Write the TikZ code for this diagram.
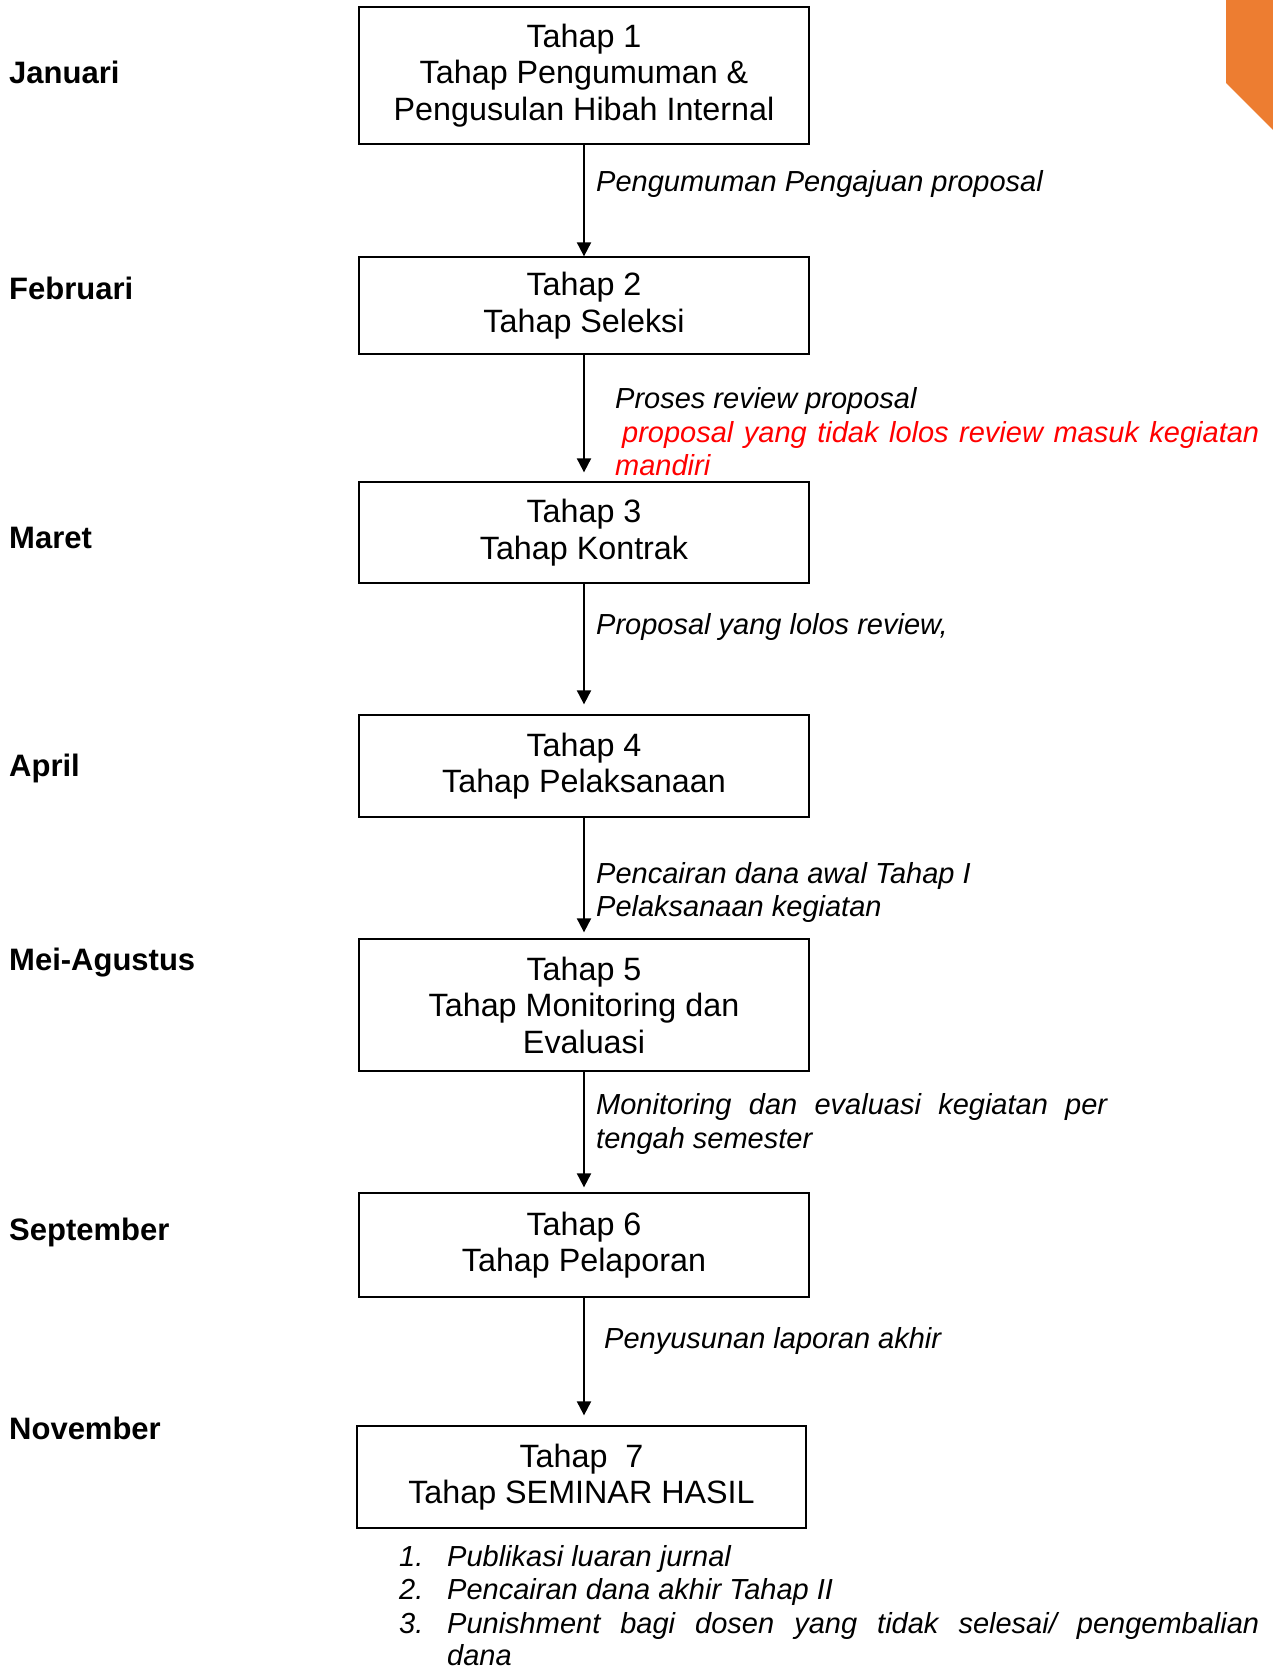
\documentclass[tikz,border=0pt]{standalone}
\usepackage{fontspec}
\setmainfont{Liberation Sans}
\usetikzlibrary{arrows.meta}
\definecolor{orng}{HTML}{ED7D31}
\begin{document}
\begin{tikzpicture}[x=1pt,y=-1pt,
  box/.style={draw, line width=1.3pt, minimum width=450pt, align=center, inner sep=0pt,
    font=\fontsize{32.3}{36.5}\selectfont},
  month/.style={anchor=base west, inner sep=0pt, font=\bfseries\fontsize{31}{36}\selectfont},
  lab/.style={anchor=base west, inner sep=0pt, font=\itshape\fontsize{29}{33}\selectfont},
  arr/.style={-{Triangle[length=14pt,width=14pt]}, line width=2pt}]
\useasboundingbox (0,0) rectangle (1273,1668);
\fill[orng] (1226,0) -- (1273,0) -- (1273,130) -- (1226,83) -- cycle;

% boxes
\node[box, minimum height=137pt] (b1) at (584,75.5) {Tahap 1\\Tahap Pengumuman \&\\Pengusulan Hibah Internal};
\node[box, minimum height=97pt] (b2) at (584,305.5) {Tahap 2\\Tahap Seleksi};
\node[box, minimum height=101pt] (b3) at (584,532.5) {Tahap 3\\Tahap Kontrak};
\node[box, minimum height=102pt] (b4) at (584,766) {Tahap 4\\Tahap Pelaksanaan};
\node[box, minimum height=132pt] (b5) at (584,1005) {Tahap 5\\Tahap Monitoring dan\\Evaluasi};
\node[box, minimum height=104pt] (b6) at (584,1245) {Tahap 6\\Tahap Pelaporan};
\node[box, minimum height=102pt, minimum width=449pt] (b7) at (581.5,1477) {Tahap~~7\\Tahap SEMINAR HASIL};

% arrows
\draw[arr] (b1.south) -- (b1.south |- b2.north);
\draw[arr, shorten >=9pt] (b2.south) -- (b2.south |- b3.north);
\draw[arr, shorten >=10pt] (b3.south) -- (b3.south |- b4.north);
\draw[arr, shorten >=6pt] (b4.south) -- (b4.south |- b5.north);
\draw[arr, shorten >=5pt] (b5.south) -- (b5.south |- b6.north);
\draw[arr, shorten >=10pt] (b6.south) -- (b6.south |- b7.north);

% months
\node[month] (m1) at (9,83) {Januari};
\node[month] (m2) at (9,299) {Februari};
\node[month] (m3) at (9,548) {Maret};
\node[month] (m4) at (9,776) {April};
\node[month] (m5) at (9,970) {Mei-Agustus};
\node[month] (m6) at (9,1240) {September};
\node[month] (m7) at (9,1439) {November};

% labels
\node[lab] (l1) at (596,191) {Pengumuman Pengajuan proposal};
\node[lab] (l2a) at (615,408) {Proses review proposal};
\node[lab, text=red] (l2b) at (622,442) {\makebox[637pt][s]{proposal yang tidak lolos review masuk kegiatan}};
\node[lab, text=red] (l2c) at (615,475) {mandiri};
\node[lab] (l3) at (596,634) {Proposal yang lolos review,};
\node[lab] (l4a) at (596,883) {Pencairan dana awal Tahap I};
\node[lab] (l4b) at (596,916) {Pelaksanaan kegiatan};
\node[lab] (l5a) at (596,1114) {\makebox[511pt][s]{Monitoring dan evaluasi kegiatan per}};
\node[lab] (l5b) at (596,1148) {tengah semester};
\node[lab] (l6) at (604,1348) {Penyusunan laporan akhir};

% list
\node[lab] (n1) at (399,1566) {1.};
\node[lab] (t1) at (447,1566) {Publikasi luaran jurnal};
\node[lab] (n2) at (399,1599) {2.};
\node[lab] (t2) at (447,1599) {Pencairan dana akhir Tahap II};
\node[lab] (n3) at (399,1633) {3.};
\node[lab] (t3) at (447,1633) {\makebox[812pt][s]{Punishment bagi dosen yang tidak selesai/ pengembalian}};
\node[lab] (t4) at (447,1665) {dana};
\end{tikzpicture}
\end{document}
